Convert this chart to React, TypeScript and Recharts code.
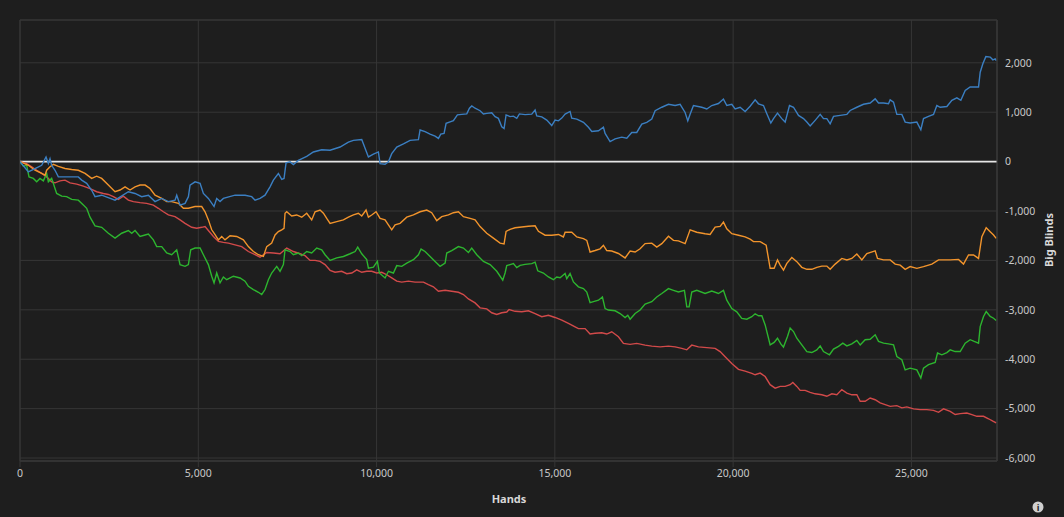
import React from "react";
import {
  LineChart,
  Line,
  XAxis,
  YAxis,
  CartesianGrid,
  ReferenceLine,
  ReferenceArea,
} from "recharts";

// [hands, big blinds]
const blueSeries: [number, number][] = [
  [0, 0], [234, -210], [421, -140], [608, -75], [730, 95], [795, -40], [842, 60], [888, -75],
  [982, -175], [1075, -310], [1262, -310], [1636, -310], [1730, -375], [1870, -440], [2010, -580],
  [2104, -710], [2291, -680], [2665, -780], [3039, -610], [3226, -645], [3413, -710], [3600, -680],
  [3787, -810], [3974, -745], [4161, -810], [4348, -780], [4395, -680], [4489, -880], [4629, -845],
  [4723, -710], [4769, -475], [4910, -410], [5050, -440], [5143, -645], [5283, -745], [5442, -910],
  [5517, -745], [5610, -810], [5704, -745], [6031, -680], [6311, -680], [6498, -710], [6592, -780],
  [6732, -745], [6872, -680], [7012, -510], [7106, -375], [7246, -240], [7340, -360], [7405, -340],
  [7461, -25], [7573, -5], [7667, -60], [7807, 25], [8041, 105], [8228, 195], [8462, 240],
  [8696, 230], [8976, 295], [9210, 395], [9350, 430], [9584, 445], [9771, 95], [9911, 150],
  [10051, 195], [10098, -40], [10238, -55], [10332, -5], [10425, 160], [10566, 295], [10753, 360],
  [10940, 430], [11174, 445], [11220, 640], [11360, 605], [11500, 555], [11641, 515], [11735, 470],
  [11800, 555], [11893, 570], [11950, 775], [12062, 805], [12155, 830], [12267, 945], [12390, 955],
  [12530, 965], [12605, 1080], [12670, 1125], [12763, 1080], [12903, 1030], [12997, 965],
  [13090, 975], [13230, 990], [13324, 910], [13417, 875], [13511, 705], [13576, 670], [13632, 945],
  [13744, 910], [13838, 920], [13932, 875], [14006, 965], [14165, 950], [14352, 960], [14446, 1045],
  [14492, 925], [14633, 905], [14773, 840], [14913, 730], [15006, 840], [15100, 825], [15194, 880],
  [15287, 960], [15427, 1015], [15474, 880], [15615, 860], [15802, 795], [15942, 695], [16036, 610],
  [16223, 625], [16362, 695], [16409, 570], [16549, 405], [16690, 460], [16876, 495], [17017, 475],
  [17157, 590], [17297, 590], [17438, 760], [17578, 795], [17718, 860], [17812, 1030], [17999, 1100],
  [18186, 1160], [18373, 1135], [18513, 1160], [18653, 995], [18728, 825], [18793, 960],
  [18887, 1135], [19120, 1100], [19261, 1065], [19401, 1135], [19588, 1175], [19728, 1265],
  [19822, 1135], [19962, 1160], [20056, 1065], [20196, 1100], [20336, 1015], [20476, 1120],
  [20617, 1250], [20711, 1170], [20851, 1135], [20945, 970], [21057, 780], [21132, 870],
  [21244, 980], [21365, 870], [21459, 800], [21580, 1135], [21693, 1100], [21833, 935], [21973, 870],
  [22067, 800], [22160, 720], [22300, 835], [22441, 955], [22534, 870], [22628, 870], [22721, 765],
  [22815, 915], [23002, 935], [23189, 955], [23282, 1035], [23469, 1100], [23656, 1160],
  [23843, 1185], [23983, 1270], [24077, 1185], [24217, 1185], [24357, 1170], [24404, 1250],
  [24498, 1205], [24591, 955], [24731, 955], [24825, 800], [24965, 780], [25152, 800], [25264, 645],
  [25339, 870], [25479, 915], [25620, 955], [25713, 1135], [25807, 1100], [25994, 1115],
  [26134, 1240], [26274, 1290], [26386, 1240], [26508, 1440], [26648, 1510], [26882, 1510],
  [26929, 1810], [27003, 1980], [27087, 2125], [27209, 2115], [27284, 2060], [27350, 2080],
  [27378, 2045],
];

const orangeSeries: [number, number][] = [
  [0, 0], [234, -75], [421, -175], [608, -240], [702, -275], [748, -175], [842, -105], [935, -55],
  [1075, -95], [1262, -140], [1450, -160], [1636, -175], [1824, -240], [2010, -340], [2151, -295],
  [2291, -340], [2478, -475], [2665, -610], [2805, -575], [2946, -510], [3086, -575], [3226, -510],
  [3366, -475], [3507, -475], [3647, -545], [3787, -680], [3974, -745], [4114, -810], [4255, -810],
  [4442, -845], [4582, -945], [4722, -945], [4909, -910], [5096, -910], [5190, -1015], [5283, -1180],
  [5377, -1380], [5470, -1480], [5564, -1585], [5657, -1515], [5750, -1585], [5891, -1500],
  [6078, -1515], [6265, -1585], [6405, -1720], [6545, -1820], [6686, -1885], [6826, -1920],
  [6919, -1720], [7059, -1650], [7153, -1485], [7246, -1415], [7340, -1380], [7405, -1350],
  [7433, -1045], [7480, -1015], [7620, -1100], [7760, -1080], [7901, -1125], [8041, -1045],
  [8181, -1180], [8275, -1015], [8415, -980], [8509, -1045], [8602, -1150], [8696, -1250],
  [8883, -1215], [9070, -1180], [9210, -1125], [9350, -1080], [9490, -1045], [9584, -1100],
  [9705, -980], [9771, -1125], [9864, -1080], [9986, -1015], [10098, -1150], [10238, -1180],
  [10332, -1280], [10425, -1380], [10519, -1280], [10659, -1250], [10846, -1125], [11033, -1080],
  [11220, -1015], [11407, -980], [11547, -1035], [11688, -1195], [11828, -1115], [12015, -1080],
  [12155, -1035], [12295, -1015], [12436, -1115], [12623, -1150], [12763, -1180], [12903, -1315],
  [13090, -1450], [13277, -1550], [13464, -1650], [13576, -1665], [13632, -1415], [13744, -1370],
  [13885, -1340], [14072, -1325], [14259, -1310], [14446, -1300], [14539, -1410], [14726, -1490],
  [14913, -1490], [15100, -1475], [15240, -1525], [15287, -1430], [15474, -1430], [15615, -1525],
  [15802, -1560], [15895, -1595], [15988, -1830], [16129, -1800], [16269, -1765], [16362, -1695],
  [16456, -1800], [16596, -1810], [16783, -1860], [16970, -1950], [17110, -1810], [17251, -1830],
  [17391, -1765], [17531, -1660], [17718, -1650], [17858, -1730], [17999, -1660], [18186, -1510],
  [18326, -1595], [18466, -1605], [18653, -1660], [18793, -1380], [18980, -1430], [19214, -1460],
  [19354, -1475], [19495, -1325], [19635, -1310], [19728, -1225], [19822, -1360], [19962, -1460],
  [20149, -1490], [20336, -1525], [20476, -1570], [20571, -1620], [20758, -1620], [20926, -1690],
  [21038, -2160], [21150, -2160], [21244, -1990], [21319, -2095], [21412, -2195], [21506, -2060],
  [21646, -1940], [21786, -2025], [21926, -2140], [22067, -2180], [22207, -2180], [22347, -2140],
  [22487, -2115], [22628, -2115], [22721, -2180], [22861, -2075], [23048, -1960], [23189, -1990],
  [23329, -1960], [23469, -1870], [23609, -1990], [23750, -1860], [23983, -1805], [24049, -1960],
  [24217, -1990], [24404, -1990], [24544, -2075], [24685, -2095], [24825, -2180], [24965, -2125],
  [25152, -2160], [25339, -2125], [25573, -2075], [25760, -1990], [25900, -1990], [26087, -1990],
  [26321, -1980], [26461, -2075], [26601, -1890], [26742, -1890], [26882, -1960], [26975, -1520],
  [27097, -1340], [27209, -1420], [27303, -1485], [27378, -1555],
];

const greenSeries: [number, number][] = [
  [0, 0], [94, -95], [187, -75], [253, -310], [374, -340], [468, -410], [561, -340], [655, -390],
  [748, -240], [795, -410], [888, -340], [1028, -645], [1169, -700], [1309, -710], [1450, -765],
  [1636, -780], [1777, -880], [1870, -945], [1964, -1125], [2104, -1300], [2291, -1330],
  [2478, -1450], [2665, -1550], [2852, -1450], [3039, -1395], [3133, -1450], [3226, -1395],
  [3366, -1515], [3507, -1485], [3600, -1465], [3740, -1585], [3834, -1720], [3974, -1720],
  [4114, -1850], [4255, -1885], [4395, -1785], [4489, -2085], [4629, -2120], [4722, -2085],
  [4788, -1785], [4909, -1750], [5050, -1750], [5143, -1885], [5283, -2085], [5377, -2320],
  [5442, -2455], [5517, -2255], [5610, -2455], [5704, -2335], [5797, -2390], [5984, -2320],
  [6171, -2355], [6311, -2420], [6405, -2525], [6545, -2590], [6686, -2645], [6779, -2690],
  [6872, -2590], [6966, -2390], [7059, -2255], [7200, -2120], [7293, -2220], [7387, -2085],
  [7433, -1785], [7573, -1820], [7667, -1885], [7807, -1850], [7901, -1905], [8041, -1820],
  [8181, -1850], [8322, -1750], [8462, -1785], [8555, -1885], [8696, -2000], [8883, -1950],
  [9070, -1920], [9257, -1865], [9397, -1820], [9472, -1730], [9584, -1865], [9724, -1985],
  [9771, -2155], [9911, -2135], [10023, -2020], [10079, -2255], [10238, -2355], [10332, -2220],
  [10472, -2255], [10566, -2105], [10706, -2120], [10846, -2055], [11033, -1985], [11174, -1885],
  [11248, -1770], [11360, -1820], [11501, -1920], [11641, -2020], [11781, -2120], [11922, -2055],
  [11968, -1850], [12108, -1800], [12295, -1720], [12436, -1750], [12576, -1840], [12669, -1750],
  [12810, -1885], [12997, -2020], [13184, -2085], [13371, -2220], [13539, -2400], [13604, -2255],
  [13651, -2105], [13744, -2085], [13838, -2065], [13931, -2145], [14025, -2100], [14165, -2080],
  [14352, -2065], [14446, -2035], [14520, -2210], [14679, -2255], [14820, -2335], [14960, -2390],
  [15053, -2335], [15147, -2350], [15287, -2265], [15334, -2370], [15427, -2265], [15521, -2435],
  [15661, -2535], [15802, -2570], [15895, -2640], [15988, -2855], [16082, -2835], [16223, -2805],
  [16334, -2740], [16409, -2975], [16503, -3005], [16690, -3020], [16830, -3075], [16970, -3155],
  [17045, -3110], [17110, -3190], [17251, -3075], [17391, -3005], [17531, -2885], [17718, -2835],
  [17858, -2740], [17999, -2670], [18186, -2570], [18326, -2605], [18466, -2640], [18634, -2605],
  [18700, -2940], [18765, -2940], [18840, -2640], [18980, -2605], [19214, -2670], [19401, -2620],
  [19588, -2670], [19728, -2605], [19822, -2805], [19962, -2975], [20102, -3040], [20242, -3175],
  [20383, -3190], [20523, -3140], [20617, -3080], [20711, -3120], [20804, -3120], [20898, -3305],
  [21038, -3710], [21150, -3660], [21244, -3575], [21337, -3690], [21412, -3755], [21524, -3540],
  [21599, -3370], [21693, -3440], [21786, -3575], [21926, -3710], [22067, -3845], [22207, -3865],
  [22347, -3810], [22441, -3730], [22534, -3845], [22702, -3910], [22815, -3795], [22955, -3740],
  [23076, -3675], [23189, -3730], [23329, -3690], [23469, -3620], [23563, -3710], [23703, -3605],
  [23843, -3595], [23983, -3505], [24077, -3640], [24217, -3675], [24357, -3690], [24498, -3710],
  [24591, -3945], [24731, -4010], [24825, -4215], [24965, -4180], [25152, -4215], [25264, -4380],
  [25339, -4180], [25479, -4110], [25666, -4065], [25732, -3875], [25853, -3910], [25994, -3865],
  [26087, -3810], [26227, -3845], [26368, -3845], [26508, -3675], [26648, -3605], [26760, -3640],
  [26882, -3675], [26929, -3340], [27022, -3135], [27097, -3035], [27209, -3135], [27303, -3170],
  [27378, -3215],
];

const redSeries: [number, number][] = [
  [0, 0], [187, -40], [328, -105], [468, -175], [608, -240], [748, -310], [888, -410], [982, -430],
  [1122, -390], [1262, -375], [1403, -430], [1590, -455], [1777, -495], [1964, -545], [2151, -610],
  [2338, -645], [2478, -665], [2618, -710], [2758, -765], [2899, -700], [3039, -780], [3179, -810],
  [3366, -830], [3553, -845], [3740, -880], [3880, -945], [4021, -1015], [4161, -1080],
  [4348, -1115], [4489, -1180], [4629, -1250], [4816, -1330], [4956, -1350], [5096, -1330],
  [5190, -1315], [5283, -1395], [5424, -1515], [5564, -1615], [5704, -1635], [5844, -1650],
  [6031, -1685], [6218, -1720], [6405, -1820], [6592, -1885], [6732, -1935], [6919, -1840],
  [7106, -1850], [7293, -1865], [7480, -1750], [7667, -1820], [7854, -1865], [7994, -1905],
  [8135, -2000], [8275, -2000], [8415, -2020], [8555, -2085], [8696, -2200], [8836, -2240],
  [9023, -2220], [9163, -2270], [9304, -2255], [9444, -2190], [9584, -2240], [9724, -2220],
  [9864, -2220], [10005, -2255], [10145, -2240], [10285, -2290], [10425, -2355], [10566, -2420],
  [10706, -2440], [10893, -2420], [11080, -2440], [11314, -2440], [11454, -2490], [11594, -2535],
  [11734, -2625], [11922, -2605], [12108, -2625], [12295, -2645], [12436, -2690], [12576, -2780],
  [12763, -2860], [12903, -2960], [13090, -2980], [13230, -3060], [13371, -3095], [13511, -3060],
  [13651, -3045], [13716, -2995], [13885, -3030], [14072, -3040], [14259, -3020], [14446, -3075],
  [14633, -3140], [14820, -3110], [15006, -3155], [15194, -3210], [15381, -3275], [15568, -3345],
  [15661, -3380], [15848, -3380], [15988, -3490], [16129, -3475], [16316, -3465], [16456, -3490],
  [16596, -3445], [16783, -3545], [16923, -3680], [17110, -3700], [17297, -3680], [17531, -3715],
  [17718, -3735], [17952, -3750], [18186, -3735], [18373, -3750], [18560, -3780], [18700, -3810],
  [18840, -3715], [19027, -3750], [19261, -3765], [19495, -3780], [19635, -3845], [19775, -3950],
  [19962, -4085], [20149, -4205], [20336, -4240], [20523, -4285], [20617, -4315], [20758, -4280],
  [20898, -4350], [21038, -4515], [21178, -4585], [21319, -4550], [21459, -4550], [21599, -4515],
  [21674, -4470], [21786, -4550], [21880, -4630], [22020, -4630], [22160, -4670], [22300, -4700],
  [22487, -4720], [22628, -4750], [22768, -4700], [22908, -4720], [23048, -4615], [23189, -4685],
  [23329, -4720], [23469, -4720], [23563, -4850], [23703, -4850], [23843, -4785], [23983, -4820],
  [24123, -4885], [24264, -4920], [24404, -4955], [24591, -4940], [24731, -4985], [24872, -4965],
  [25059, -5005], [25246, -5020], [25433, -5020], [25620, -5035], [25760, -5075], [25900, -5005],
  [26087, -5055], [26227, -5120], [26368, -5100], [26555, -5090], [26695, -5120], [26835, -5155],
  [27022, -5155], [27162, -5205], [27284, -5255], [27378, -5290],
];

const handTicks = [0, 5000, 10000, 15000, 20000, 25000];
const bbTicks = [-6000, -5000, -4000, -3000, -2000, -1000, 0, 1000, 2000];

const HAND_MAX = 27400;
const BB_MIN = -6060;
const BB_MAX = 2866;

const BG = "#1e1e1e";
const GRID = "#363636";
const TEXT = "#c8c8c8";
const FONT = "'Noto Sans', 'Open Sans', sans-serif";

function toPoints(series: [number, number][]) {
  return series.map(([hands, bb]) => ({ hands, bb }));
}

function formatNumber(v: number): string {
  return v.toLocaleString("en-US");
}

const lines = [
  { key: "red", data: toPoints(redSeries), color: "#d24a4a" },
  { key: "green", data: toPoints(greenSeries), color: "#2db52f" },
  { key: "orange", data: toPoints(orangeSeries), color: "#f2942c" },
  { key: "blue", data: toPoints(blueSeries), color: "#3b7fc2" },
];

export default function App() {
  return (
    <div style={{ position: "relative", width: 1064, height: 517, background: BG }}>
      <style>{`body{margin:0;background:${BG};}`}</style>
      <LineChart
        width={1064}
        height={517}
        margin={{ top: 20, right: 17, left: 20, bottom: 26 }}
      >
        <CartesianGrid stroke={GRID} strokeWidth={1} />
        <XAxis
          type="number"
          dataKey="hands"
          domain={[0, HAND_MAX]}
          ticks={handTicks}
          allowDataOverflow
          tickFormatter={formatNumber}
          tick={{ fontSize: 10.5, fill: TEXT, fontFamily: FONT }}
          tickLine={{ stroke: GRID }}
          tickSize={6}
          tickMargin={3}
          axisLine={{ stroke: GRID }}
          height={30}
        />
        <YAxis
          type="number"
          dataKey="bb"
          orientation="right"
          domain={[BB_MIN, BB_MAX]}
          ticks={bbTicks}
          allowDataOverflow
          tickFormatter={formatNumber}
          tick={{ fontSize: 10.5, fill: TEXT, fontFamily: FONT }}
          tickLine={false}
          tickSize={0}
          tickMargin={8}
          axisLine={{ stroke: GRID }}
          width={50}
        />
        <ReferenceArea
          x1={0}
          x2={HAND_MAX}
          y1={BB_MIN}
          y2={BB_MAX}
          fill="none"
          stroke={GRID}
          strokeWidth={1}
          ifOverflow="visible"
        />
        <ReferenceLine y={0} stroke="#e6e6e6" strokeWidth={1.6} />
        {lines.map((l) => (
          <Line
            key={l.key}
            data={l.data}
            dataKey="bb"
            type="linear"
            stroke={l.color}
            strokeWidth={1.4}
            dot={false}
            activeDot={false}
            isAnimationActive={false}
          />
        ))}
      </LineChart>
      <svg
        width={1064}
        height={517}
        style={{ position: "absolute", left: 0, top: 0, pointerEvents: "none" }}
      >
        <text
          x={509}
          y={498.5}
          textAnchor="middle"
          dominantBaseline="central"
          fontFamily={FONT}
          fontSize={11}
          fontWeight="bold"
          fill="#d8d8d8"
        >
          Hands
        </text>
        <text
          x={1048.5}
          y={240}
          textAnchor="middle"
          dominantBaseline="central"
          fontFamily={FONT}
          fontSize={11}
          fontWeight="bold"
          fill="#d8d8d8"
          transform="rotate(-90 1048.5 240)"
        >
          Big Blinds
        </text>
        <circle cx={1038} cy={507} r={5.5} fill="#cfcfcf" />
        <text
          x={1038}
          y={507.5}
          textAnchor="middle"
          dominantBaseline="central"
          fontFamily={FONT}
          fontSize={9}
          fontWeight="bold"
          fill={BG}
        >
          i
        </text>
      </svg>
    </div>
  );
}
